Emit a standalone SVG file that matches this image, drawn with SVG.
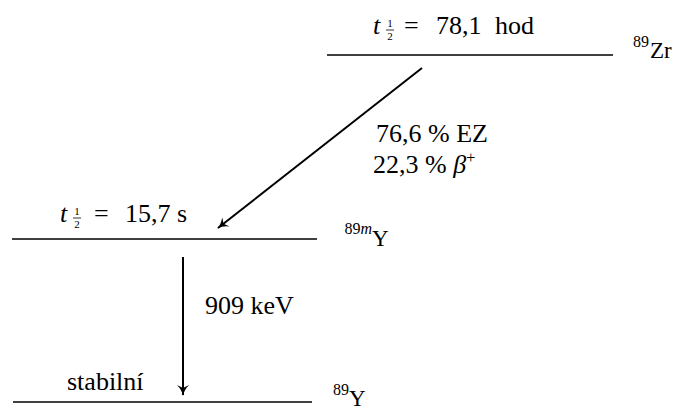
<svg xmlns="http://www.w3.org/2000/svg" width="679" height="410" viewBox="0 0 679 410">
<defs>
<style>
text{font-family:"Liberation Serif","Times New Roman",serif;fill:#000}
.m{font-size:26px}
.s{font-size:11px}
.lbl{font-size:23px}
.sup{font-size:16px}
.it{font-style:italic}
.lvl{stroke:#000;stroke-width:1.6;fill:none}
.bar{stroke:#000;stroke-width:0.8}
.arr{stroke:#000;stroke-width:2;fill:none;marker-end:url(#ah)}
</style>
<marker id="ah" viewBox="0 0 12 12" refX="10" refY="6" markerWidth="12" markerHeight="12" markerUnits="userSpaceOnUse" orient="auto">
<path d="M0,0 Q5,5 11,6 Q5,7 0,12 L3,6 Z" fill="#000"/>
</marker>
</defs>
<rect width="679" height="410" fill="#fff"/>
<g id="zr89">
<line class="lvl" x1="327" y1="55" x2="613" y2="55"/>
<text class="m it" x="373" y="34">t</text>
<text class="s" x="390" y="27" text-anchor="middle">1</text>
<line class="bar" x1="386" y1="30" x2="394" y2="30"/>
<text class="s" x="390" y="40" text-anchor="middle">2</text>
<text class="m" x="404" y="34">=</text>
<text class="m" x="436" y="34">78,1</text>
<text class="m" x="495" y="34">hod</text>
<text class="sup" x="649" y="47" text-anchor="end">89</text>
<text class="lbl" x="650" y="58">Zr</text>
</g>
<g id="y89m">
<line class="lvl" x1="12" y1="239" x2="317" y2="239"/>
<text class="m it" x="60" y="222">t</text>
<text class="s" x="77" y="215" text-anchor="middle">1</text>
<line class="bar" x1="73" y1="218" x2="81" y2="218"/>
<text class="s" x="77" y="228" text-anchor="middle">2</text>
<text class="m" x="94" y="222">=</text>
<text class="m" x="125" y="222">15,7</text>
<text class="m" x="177" y="222">s</text>
<text class="sup" x="372" y="234" text-anchor="end">89<tspan class="it">m</tspan></text>
<text class="lbl" x="372" y="246">Y</text>
</g>
<g id="y89">
<line class="lvl" x1="13" y1="402" x2="312" y2="402"/>
<text class="m" x="67" y="390">stabilní</text>
<text class="sup" x="349" y="395" text-anchor="end">89</text>
<text class="lbl" x="349" y="406">Y</text>
</g>
<g id="connectors">
<line class="arr" x1="422" y1="68" x2="218" y2="228"/>
<line class="arr" x1="183" y1="257" x2="183" y2="395"/>
<text class="m" x="376" y="142">76,6 % EZ</text>
<text class="m" x="373" y="173">22,3 % <tspan class="it">β</tspan><tspan class="sup" dy="-10">+</tspan></text>
<text class="m" x="205" y="314">909 keV</text>
</g>
</svg>
